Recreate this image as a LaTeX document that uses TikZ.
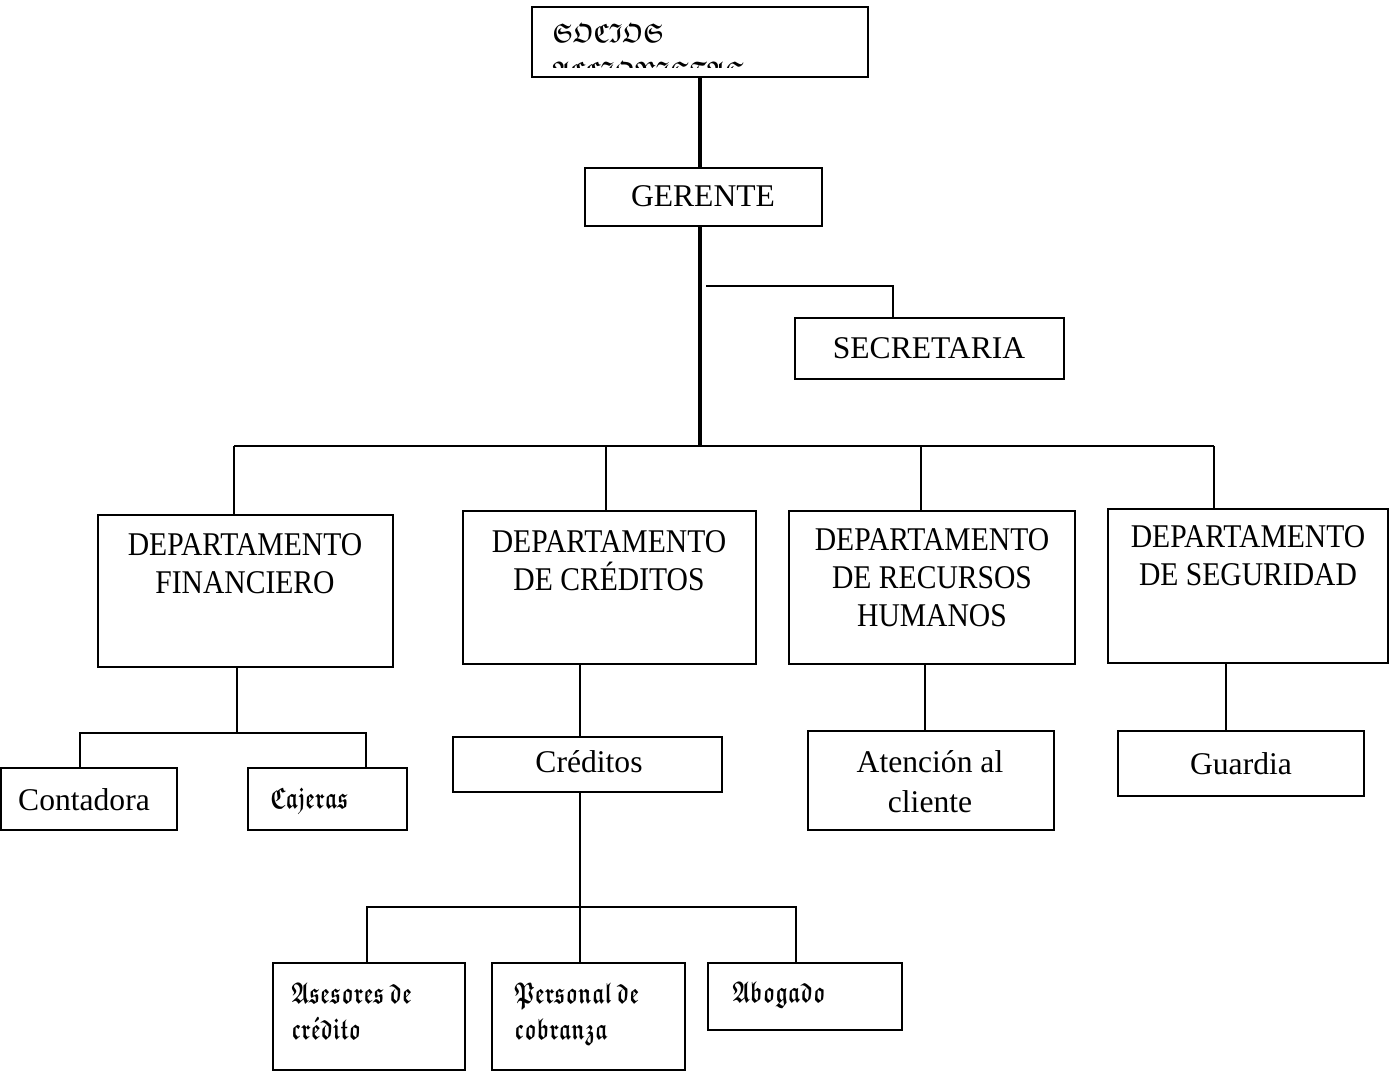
\documentclass[tikz,border=0pt]{standalone}
\usepackage{amssymb}
\usepackage{graphicx}
\usepackage{fontspec}
\setmainfont{Liberation Serif}
\tikzset{
  box/.style={draw, line width=1pt, inner sep=0pt, outer sep=0pt},
  link/.style={line width=0.75pt},
  trunk/.style={line width=2.2pt},
  dept/.style={font=\fontsize{14.8}{19}\selectfont, align=center, inner sep=0pt},
  lbl/.style={font=\fontsize{15.8}{20}\selectfont, align=center, inner sep=0pt},
  goth/.style={font=\fontsize{13.5}{18}\selectfont\boldmath, inner sep=0pt, anchor=base west},
  gothsmall/.style={font=\fontsize{15}{18}\selectfont\boldmath, inner sep=0pt, anchor=base west},
}
% blackletter words, condensed
\newcommand\gth[1]{\scalebox{0.78}[1]{\ensuremath{#1}}}
\newcommand\gthn[1]{\scalebox{0.7}[1]{\ensuremath{#1}}}
% narrow, tall capitals of the department headings
\newcommand\tall[1]{\scalebox{1}[1.12]{#1}}
% box from (x1,y1) to (x2,y2), in pixel units
\newcommand\orgbox[5]{%
  \node[box, minimum width={(#4-#2)*0.5pt}, minimum height={(#5-#3)*0.5pt}]
    (#1) at ({(#2+#4)/2},{(#3+#5)/2}) {};}
\begin{document}
\begin{tikzpicture}[x=0.5pt, y=-0.5pt]
\useasboundingbox (0,0) rectangle (1390,1073);
\fill[white] (0,0) rectangle (1390,1073);

% ---- boxes ----
\orgbox{socios}{532}{7}{868}{77}
\orgbox{gerente}{585}{168}{822}{226}
\orgbox{secre}{795}{318}{1064}{379}
\orgbox{fin}{98}{515}{393}{667}
\orgbox{cred}{463}{511}{756}{664}
\orgbox{rrhh}{789}{511}{1075}{664}
\orgbox{seg}{1108}{509}{1388}{663}
\orgbox{conta}{1}{768}{177}{830}
\orgbox{caje}{248}{768}{407}{830}
\orgbox{credb}{453}{737}{722}{792}
\orgbox{aten}{808}{731}{1054}{830}
\orgbox{guard}{1118}{731}{1364}{796}
\orgbox{ases}{273}{963}{465}{1070}
\orgbox{pers}{492}{963}{685}{1070}
\orgbox{abog}{708}{963}{902}{1030}

% ---- texts ----
\begin{scope}
  \clip (533,8) rectangle (867,67);
  \node[goth] (soc1) at (552,42) {\gth{\mathfrak{SOCIOS}}};
  \node[goth] (soc2) at (552,80) {\gth{\mathfrak{ACCIONISTAS}}};
\end{scope}
\node[lbl] (gerente-t) at (703,196) {GERENTE};
\node[lbl] (secre-t) at (929,348) {SECRETARIA};
\node[dept] (fin-t) at (245,563.5) {\tall{DEPARTAMENTO}\\\tall{FINANCIERO}};
\node[dept] (cred-t) at (609,560.5) {\tall{DEPARTAMENTO}\\\tall{DE CRÉDITOS}};
\node[dept] (rrhh-t) at (932,577.5) {\tall{DEPARTAMENTO}\\\tall{DE RECURSOS}\\\tall{HUMANOS}};
\node[dept] (seg-t) at (1248,556) {\tall{DEPARTAMENTO}\\\tall{DE SEGURIDAD}};
\node[lbl] (conta-t) at (84,800) {Contadora};
\node[gothsmall] (caje-t) at (270,808) {\gthn{\mathfrak{Cajeras}}};
\node[lbl] (credb-t) at (589,762) {Créditos};
\node[lbl] (aten-t) at (930,782) {Atención al\\cliente};
\node[lbl] (guard-t) at (1241,764) {Guardia};
\node[gothsmall] (ases-t1) at (291,1003) {\gthn{\mathfrak{Asesores}\ \mathfrak{de}}};
\node[gothsmall] (ases-t2) at (291,1039) {\gthn{\mathfrak{cr}\acute{\mathfrak{e}}\mathfrak{dito}}};
\node[gothsmall] (pers-t1) at (514,1003) {\gthn{\mathfrak{Personal}\ \mathfrak{de}}};
\node[gothsmall] (pers-t2) at (514,1039) {\gthn{\mathfrak{cobranza}}};
\node[gothsmall] (abog-t) at (732,1002) {\gthn{\mathfrak{Abogado}}};

% ---- junction points ----
\coordinate (bus) at (700,446);
\coordinate (busL) at (234,446);
\coordinate (busR) at (1214,446);
\coordinate (d2) at (606,446);
\coordinate (d3) at (921,446);
\coordinate (sectap) at (706,286);
\coordinate (secj) at (893,286);
\coordinate (finj) at (237,733);
\coordinate (finL) at (80,733);
\coordinate (finR) at (366,733);
\coordinate (crdj) at (580,907);
\coordinate (crdL) at (367,907);
\coordinate (crdR) at (796,907);
\coordinate (rhj) at (925,700);
\coordinate (sgj) at (1226,700);

% ---- trunk ----
\draw[trunk] (socios.south -| bus) -- (gerente.north -| bus);
\draw[trunk] (gerente.south -| bus) -- ([yshift=-0.6pt]bus);

% ---- secretaria ----
\draw[link] (sectap) -- (secj) -- (secj |- secre.north);

% ---- departments ----
\draw[link] (busL) -- (busR);
\draw[link] (busL) -- (busL |- fin.north);
\draw[link] (d2) -- (d2 |- cred.north);
\draw[link] (d3) -- (d3 |- rrhh.north);
\draw[link] (busR) -- (busR |- seg.north);

% ---- financiero ----
\draw[link] (fin.south -| finj) -- (finj);
\draw[link] (finL |- conta.north) -- (finL) -- (finR) -- (finR |- caje.north);

% ---- creditos ----
\draw[link] (cred.south -| crdj) -- (crdj |- credb.north);
\draw[link] (credb.south -| crdj) -- (crdj |- pers.north);
\draw[link] (crdL |- ases.north) -- (crdL) -- (crdR) -- (crdR |- abog.north);

% ---- recursos humanos / seguridad ----
\draw[link] (rrhh.south -| rhj) -- (aten.north -| rhj);
\draw[link] (seg.south -| sgj) -- (guard.north -| sgj);
\end{tikzpicture}
\end{document}
